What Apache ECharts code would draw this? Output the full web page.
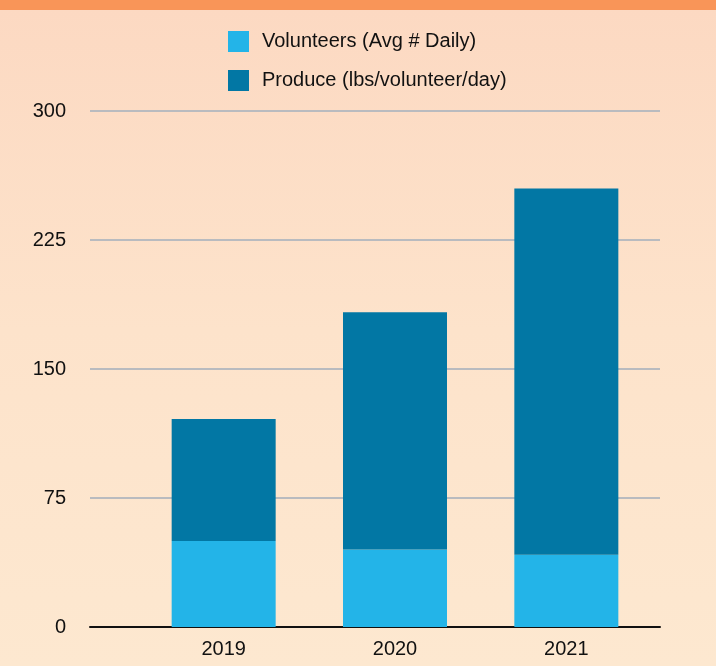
<!DOCTYPE html>
<html>
<head>
<meta charset="utf-8">
<script src="https://cdn.jsdelivr.net/npm/echarts@6/dist/echarts.min.js"></script>
<style>
    html, body { margin: 0; padding: 0; }
    body {
        width: 716px;
        height: 666px;
        overflow: hidden;
        background: linear-gradient(to bottom, #f99558 0px, #f99558 10px, #fcd9c2 10px, #fde3cb 330px, #fde8d0 666px);
    }
    #chart { width: 716px; height: 666px; }
</style>
</head>
<body>
<div id="chart"></div>
<script>
// 数据
const years = ['2019', '2020', '2021'];
const volunteers = [50, 45, 42];
const produce = [71, 138, 213];
const yTicks = [0, 75, 150, 225, 300];

const chart = echarts.init(document.getElementById('chart'));

const font = 'Helvetica, "Liberation Sans", Arial, sans-serif';

const option = {
    backgroundColor: 'transparent',
    legend: {
        orient: 'vertical',
        left: 223,
        top: 26,
        itemWidth: 21,
        itemHeight: 21,
        itemGap: 18,
        icon: 'rect',
        textStyle: { fontSize: 20, color: '#111', fontFamily: font, padding: [2, 0, 0, 8] },
        data: ['Volunteers (Avg # Daily)', 'Produce (lbs/volunteer/day)']
    },
    grid: [
        // 坐标网格线
        { left: 90, right: 56, top: 111, bottom: 39 },
        // 柱子区域
        { left: 138, right: 64, top: 111, bottom: 39 }
    ],
    xAxis: [
        {
            type: 'category',
            gridIndex: 0,
            data: years,
            axisLine: { lineStyle: { color: '#111', width: 2 } },
            axisTick: { show: false },
            axisLabel: { show: false }
        },
        {
            type: 'category',
            gridIndex: 1,
            data: years,
            axisLine: { show: false },
            axisTick: { show: false },
            axisLabel: { fontSize: 20, color: '#111', fontFamily: font, margin: 12 }
        }
    ],
    yAxis: [
        {
            type: 'value',
            gridIndex: 0,
            min: yTicks[0],
            max: yTicks[yTicks.length - 1],
            interval: 75,
            axisLine: { show: false },
            axisTick: { show: false },
            axisLabel: { fontSize: 20, color: '#111', fontFamily: font, margin: 24 },
            splitLine: { lineStyle: { color: '#b9bbbf', width: 2 } }
        },
        {
            type: 'value',
            gridIndex: 1,
            min: 0,
            max: 300,
            interval: 75,
            show: false,
            splitLine: { show: false }
        }
    ],
    series: [
        {
            name: 'Volunteers (Avg # Daily)',
            type: 'bar',
            stack: 'total',
            xAxisIndex: 1,
            yAxisIndex: 1,
            barWidth: 104,
            itemStyle: { color: '#23b4e8' },
            data: volunteers
        },
        {
            name: 'Produce (lbs/volunteer/day)',
            type: 'bar',
            stack: 'total',
            xAxisIndex: 1,
            yAxisIndex: 1,
            barWidth: 104,
            itemStyle: { color: '#0277a4' },
            data: produce
        }
    ]
};

chart.setOption(option);
</script>
</body>
</html>
